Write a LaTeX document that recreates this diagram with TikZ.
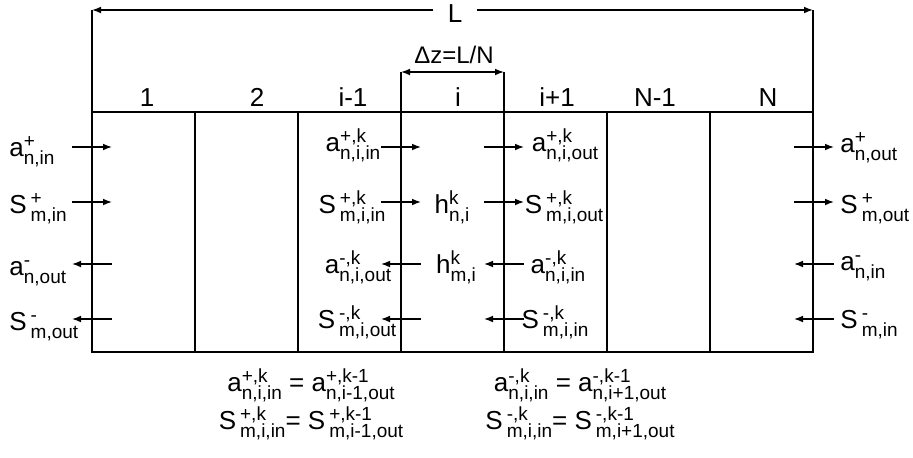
\documentclass[tikz,border=0pt]{standalone}
\usepackage{fontspec}
\setmainfont{Liberation Sans}
\usetikzlibrary{arrows.meta}
% symbol with stacked superscript and subscript
\newcommand{\fld}[3]{#1{\fontsize{9.5}{10}\selectfont
  \setbox0\hbox{\raisebox{4.2pt}{#2}}\setbox2\hbox{\raisebox{-4pt}{#3}}%
  \ifdim\wd0>\wd2 \rlap{\box2}\box0\else\rlap{\box0}\box2\fi}}

\begin{document}
\begin{tikzpicture}[x=0.5pt,y=-0.5pt,>={Latex[length=4.5pt,width=3.4pt]},
  font=\fontsize{13}{15}\selectfont,
  cell/.style={draw,line width=1pt,minimum width=51.5pt,minimum height=120pt,inner sep=0pt,outer sep=0pt,anchor=north west},
  lbl/.style={inner sep=0pt,anchor=base},
  flow/.style={line width=0.7pt}]
\useasboundingbox (0,0) rectangle (913,457);
% cells with their numbers
\foreach \x/\t [count=\c] in {147/1,257/2,353/i-1,458/i,557/i+1,655/N-1,768/N}{
  \node[cell] (c\c) at ({92+103*(\c-1)},112) {};
  \node[lbl] (n\c) at (\x,106) {\t};
}
% total length L
\coordinate (Ltip) at (92,10);
\coordinate (Rtip) at (813,10);
\node[inner sep=7pt] (L) at (455,14) {L};
\draw[line width=1pt] (c1.north west) -- (Ltip) (c7.north east) -- (Rtip);
\draw[flow,->] (L.west |- Ltip) -- (Ltip);
\draw[flow,->] (L.east |- Rtip) -- (Rtip);
% cell length
\coordinate (Dl) at (401,72);
\coordinate (Dr) at (504,72);
\draw[line width=1pt] (c4.north west) -- (Dl) (c4.north east) -- (Dr);
\draw[flow,<->] (Dl) -- (Dr);
\node[lbl,font=\fontsize{12}{14}\selectfont] (dz) at (454,63) {Δz=L/N};
% flow arrows
\foreach \y/\d [count=\r] in {147/->,202/->,264/<-,319/<-}
  \foreach \a/\b [count=\s] in {72/112,381/421,484/524,794/834}{
    \coordinate (f\r\s) at (\a,\y);
    \coordinate (g\r\s) at (\b,\y);
    \draw[flow,\d] (f\r\s) -- (g\r\s);
  }
% outer left
\node[lbl,anchor=base west] (aLi) at (9,156) {\fld{a}{+}{n,in}};
\node[lbl,anchor=base west] (SLi) at (9,213) {\fld{S\kern2pt}{+}{m,in}};
\node[lbl,anchor=base west] (aLo) at (9,275) {\fld{a}{-}{n,out}};
\node[lbl,anchor=base west] (SLo) at (9,330) {\fld{S\kern2pt}{-}{m,out}};
% outer right
\node[lbl,anchor=base west] (aRo) at (840,152) {\fld{a}{+}{n,out}};
\node[lbl,anchor=base west] (SRo) at (840,213) {\fld{S\kern2pt}{+}{m,out}};
\node[lbl,anchor=base west] (aRi) at (840,270) {\fld{a}{-}{n,in}};
\node[lbl,anchor=base west] (SRi) at (840,328) {\fld{S\kern2pt}{-}{m,in}};
% cell i, inlet side
\node[lbl] (aIi) at (353,151) {\fld{a}{+,k}{n,i,in}};
\node[lbl] (SIi) at (352,213) {\fld{S\kern2pt}{+,k}{m,i,in}};
\node[lbl] (aIo) at (358,273) {\fld{a}{-,k}{n,i,out}};
\node[lbl] (SIo) at (357,328) {\fld{S\kern2pt}{-,k}{m,i,out}};
% cell i, outlet side
\node[lbl] (aOo) at (565,151) {\fld{a}{+,k}{n,i,out}};
\node[lbl] (SOo) at (564,213) {\fld{S\kern2pt}{+,k}{m,i,out}};
\node[lbl] (aOi) at (558,273) {\fld{a}{-,k}{n,i,in}};
\node[lbl] (SOi) at (555,328) {\fld{S\kern2pt}{-,k}{m,i,in}};
\node[lbl] (hn) at (452,213) {\fld{h}{k}{n,i}};
\node[lbl] (hm) at (456,273) {\fld{h}{k}{m,i}};
% coupling between cells
\node[lbl] (eq1) at (311,391) {\fld{a}{+,k}{n,i,in} = \fld{a}{+,k-1}{n,i-1,out}};
\node[lbl] (eq2) at (311,429) {\fld{S\kern2pt}{+,k}{m,i,in}= \fld{S\kern2pt}{+,k-1}{m,i-1,out}};
\node[lbl] (eq3) at (580,391) {\fld{a}{-,k}{n,i,in} = \fld{a}{-,k-1}{n,i+1,out}};
\node[lbl] (eq4) at (580,429) {\fld{S\kern2pt}{-,k}{m,i,in}= \fld{S\kern2pt}{-,k-1}{m,i+1,out}};
\end{tikzpicture}
\end{document}
